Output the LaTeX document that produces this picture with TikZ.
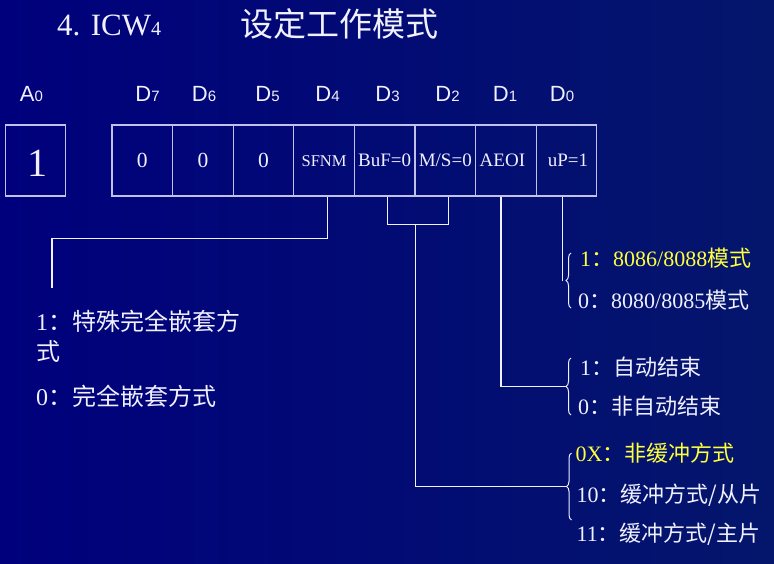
\documentclass[tikz,border=0pt]{standalone}
\usepackage{fontspec}
\setmainfont{Liberation Serif}
\newfontfamily\sansf{Liberation Sans}
\newfontfamily\cjk{Noto Sans CJK SC}
\usetikzlibrary{decorations.pathreplacing,calc}
\definecolor{bgleft}{RGB}{0,0,124}
\definecolor{bgright}{RGB}{4,22,108}
\definecolor{boxline}{RGB}{192,192,232}
\definecolor{ink}{RGB}{240,240,255}
\definecolor{hilite}{RGB}{255,255,60}
\newcommand\fs[1]{\fontsize{#1}{#1}\selectfont}
\newcommand\qc{{\cjk ：}}
\begin{document}
\begin{tikzpicture}[x=1pt,y=-1pt,
  cell/.style={draw=boxline, line width=1.3pt, minimum width=60.6pt, minimum height=71pt,
    inner sep=0pt, text=ink, font=\fs{19}, text height=12pt, text depth=0pt},
  bitlabel/.style={anchor=base, text=ink, font=\sansf\fs{22}, inner sep=0pt},
  wire/.style={draw=ink, line width=1.1pt},
  curly/.style={draw=ink, line width=1pt, decorate, decoration={brace, amplitude=5pt}},
  choice/.style={anchor=base west, text=ink, inner sep=0pt, font=\fs{22}},
]
\useasboundingbox (0,0) rectangle (774,563);
\shade[left color=bgleft, right color=bgright] (0,0) rectangle (774,563);

% heading
\node[anchor=base west, text=ink, inner sep=0pt, font=\fs{31}] (title) at (57,35) {4. ICW{\fs{20}4}};
\node[anchor=base west, text=ink, inner sep=0pt, font=\cjk\fs{33}] (titlecn) at (240,36) {设定工作模式};

% bit names
\node[bitlabel] (lA0) at (31.5,101) {A{\fs{15}0}};
\node[bitlabel] (lD7) at (147.5,101) {D{\fs{15}7}};
\node[bitlabel] (lD6) at (204,101) {D{\fs{15}6}};
\node[bitlabel] (lD5) at (267.5,101) {D{\fs{15}5}};
\node[bitlabel] (lD4) at (327.5,101) {D{\fs{15}4}};
\node[bitlabel] (lD3) at (387.5,101) {D{\fs{15}3}};
\node[bitlabel] (lD2) at (447.5,101) {D{\fs{15}2}};
\node[bitlabel] (lD1) at (505,101) {D{\fs{15}1}};
\node[bitlabel] (lD0) at (562,101) {D{\fs{15}0}};

% register cells
\node[cell, font=\fs{40}, text height=32pt] (a0) at (35.5,160.5) {\hspace*{5pt}1};
\node[cell, font=\fs{21.5}, text height=13.5pt] (d7) at (142.3,160.5) {0};
\node[cell, font=\fs{21.5}, text height=13.5pt] (d6) at (202.9,160.5) {0};
\node[cell, font=\fs{21.5}, text height=13.5pt] (d5) at (263.5,160.5) {0};
\node[cell, font=\fs{16.5}] (d4) at (324.1,160.5) {SFNM};
\node[cell] (d3) at (384.7,160.5) {BuF=0};
\node[cell] (d2) at (445.3,160.5) {M/S=0};
\node[cell] (d1) at (505.9,160.5) {AEOI\hspace*{7pt}};
\node[cell] (d0) at (566.5,160.5) {\hspace*{3pt}uP=1};

% braces grouping the options
\draw[curly] (571,308) -- (571,253);
\draw[curly] (571,415) -- (571,358);
\draw[curly] (571.5,520) -- (571.5,453);
\coordinate (tip1) at (566,280.5);
\coordinate (tip2) at (566,386.5);
\coordinate (tip3) at (566.5,486.5);
\coordinate (sfEnd) at (52,288);

% connectors
\draw[wire] ([xshift=3.6pt]d4.south) -- ++(0,42) -| (sfEnd);
\draw[wire] ([xshift=2.6pt]d3.south) -- ++(0,28) -| ([xshift=3pt]d2.south);
\draw[wire] ($(d3.south east)+(0,28)$) |- (tip3);
\draw[wire] ([xshift=-4.9pt]d1.south) |- (tip2);
\draw[wire] ([xshift=-3.8pt]d0.south) -- ([xshift=-3.8pt]d0.south |- tip1);

% option texts
\node[choice, text=hilite] (m1) at (580,266) {1\qc 8086/8088{\cjk 模式}};
\node[choice] (m0) at (578,308) {0\qc 8080/8085{\cjk 模式}};
\node[choice] (e1) at (580,375.5) {1\qc{\cjk 自动结束}};
\node[choice] (e0) at (578,414) {0\qc{\cjk 非自动结束}};
\node[choice, text=hilite] (b0) at (575.5,461.5) {0X\qc{\cjk 非缓冲方式}};
\node[choice] (b10) at (576.5,502.5) {10\qc{\cjk 缓冲方式/从片}};
\node[choice] (b11) at (576.5,541.5) {11\qc{\cjk 缓冲方式/主片}};

\node[choice, font=\fs{24}] (s1) at (36,330.5) {1\qc{\cjk 特殊完全嵌套方}};
\node[choice, font=\cjk\fs{24}] (s1b) at (36,360) {式};
\node[choice, font=\fs{24}] (s0) at (36,405) {0\qc{\cjk 完全嵌套方式}};
\end{tikzpicture}
\end{document}
